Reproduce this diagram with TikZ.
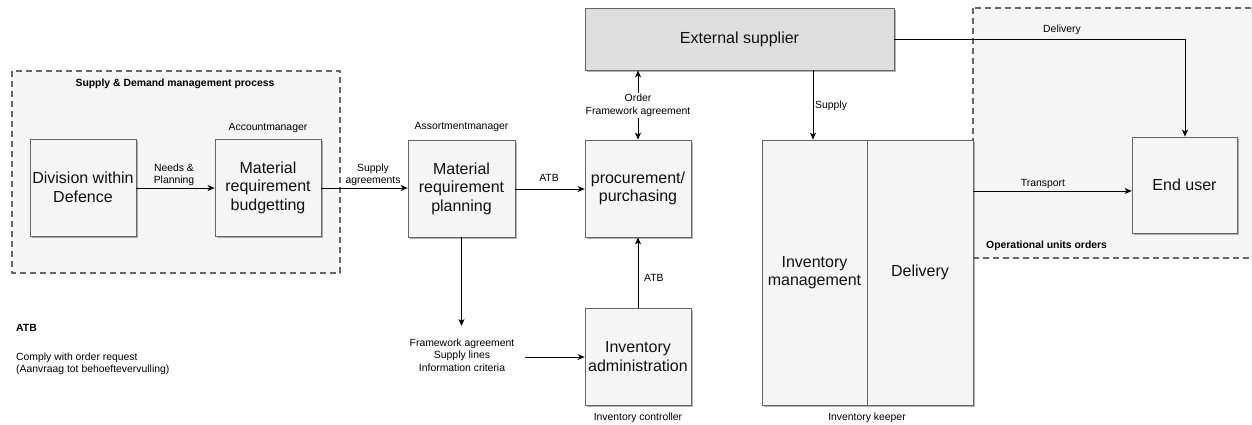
\documentclass[tikz,border=0pt]{standalone}
\usepackage{fontspec}
\setmainfont{Liberation Sans}
\usetikzlibrary{arrows.meta,shadows}
\definecolor{boxfill}{HTML}{F5F5F5}
\definecolor{boxline}{HTML}{666666}
\definecolor{supfill}{HTML}{DEDEDE}
\definecolor{txt}{HTML}{111111}
\tikzset{
  proc/.style={draw=boxline, fill=boxfill, line width=0.8pt, align=center,
    inner sep=2pt, text=txt,
    font=\fontsize{16}{18.5}\selectfont,
    drop shadow={shadow xshift=2pt, shadow yshift=-2pt, fill=black, opacity=0.3}},
  grp/.style={draw=boxline, fill=boxfill, line width=1.6pt,
    dash pattern=on 6pt off 4pt},
  lbl/.style={font=\fontsize{10.4}{12.5}\selectfont, align=center, inner sep=1pt},
  blbl/.style={lbl, font=\fontsize{10.4}{12.5}\selectfont\bfseries},
  flow/.style={draw=black, line width=0.8pt, -{Stealth[length=7pt,width=6pt,inset=2pt]}},
  bothflow/.style={draw=black, line width=0.8pt,
    {Stealth[length=7pt,width=6pt,inset=2pt]}-{Stealth[length=7pt,width=6pt,inset=2pt]}}
}
\begin{document}
\begin{tikzpicture}[x=1pt,y=-1pt]
\useasboundingbox (0,0) rectangle (1252,425);

% group areas
\path[grp] (12,71) rectangle (340,273);
\path[grp] (973,8) rectangle (1262,258);
\node[blbl] (grptitle) at (175,84) {Supply \& Demand management process};
\node[blbl, anchor=west] (opunits) at (985,246) {Operational units orders};

% process boxes
\node[proc, minimum width=106pt, minimum height=97pt] (div) at (83,187.5) {Division within\\Defence};
\node[proc, minimum width=106pt, minimum height=97pt] (mrb) at (268,187.5) {Material\\requirement\\budgetting};
\node[proc, minimum width=107pt, minimum height=97pt] (mrp) at (461.5,188.5) {Material\\requirement\\planning};
\node[proc, minimum width=106pt, minimum height=97pt] (purch) at (638,188.5) {procurement/\\purchasing};
\node[proc, fill=supfill, minimum width=309pt, minimum height=62pt] (ext) at (739.5,39) {External supplier};
\node[proc, minimum width=106pt, minimum height=97pt] (inva) at (638,356.5) {Inventory\\administration};
\node[proc, minimum width=105pt, minimum height=265pt] (invm) at (814.5,272.5) {Inventory\\management};
\node[proc, minimum width=106pt, minimum height=265pt] (deliv) at (920,272.5) {Delivery};
\node[proc, minimum width=105pt, minimum height=96pt] (enduser) at (1184.5,185) {End user};

% role labels
\node[lbl] (accm) at (268,128) {Accountmanager};
\node[lbl] (assm) at (461.5,127) {Assortmentmanager};
\node[lbl] (invc) at (638,418) {Inventory controller};
\node[lbl] (invk) at (867,418) {Inventory keeper};

% legend
\node[blbl, anchor=west] (legatb) at (15,328) {ATB};
\node[lbl, anchor=west, align=left] (legtxt) at (15,364) {Comply with order request\\(Aanvraag tot behoeftevervulling)};

% connectors
\draw[flow] (div.east |- 0,188) -- (mrb.west |- 0,188);
\node[lbl] (needs) at (174,175) {Needs \&\\Planning};

\draw[flow] (mrb.east |- 0,188) -- (mrp.west |- 0,188);
\node[lbl] (supag) at (373,175) {Supply\\agreements};

\draw[flow] (mrp.east |- 0,189) -- (purch.west |- 0,189);
\node[lbl] (atb1) at (549,178) {ATB};

\draw[bothflow] (ext.south -| purch.north) -- (purch.north);
\node[lbl, fill=white] (order) at (638,105.5) {Order\\Framework agreement};

\draw[flow] (ext.south -| 813,0) -- (invm.north -| 813,0);
\node[lbl, anchor=west] (supply) at (814,106) {Supply};

\draw[flow] (ext.east) -- (1185,39) -- (enduser.north -| 1185,0);
\node[lbl] (deliv2) at (1062,30) {Delivery};

\draw[flow] (deliv.east |- 0,191) -- (enduser.west |- 0,191);
\node[lbl] (transp) at (1043,184) {Transport};

\coordinate (mrpend) at (461.5,326);
\draw[flow] (mrp.south) -- (mrpend);

\node[lbl] (fwinfo) at (462,355) {Framework agreement\\Supply lines\\Information criteria};
\coordinate (fwstart) at (525,357);
\draw[flow] (fwstart) -- (inva.west |- fwstart);

\draw[flow] (inva.north) -- (purch.south);
\node[lbl, anchor=west] (atb2) at (643,278) {ATB};
\end{tikzpicture}
\end{document}
